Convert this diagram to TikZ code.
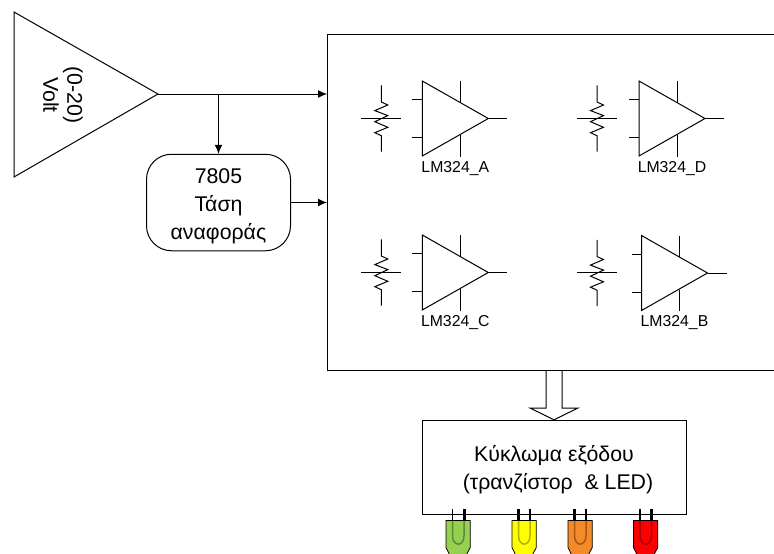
\documentclass[tikz,border=0pt]{standalone}
\usepackage{fontspec}
\setmainfont{Liberation Sans}
\usetikzlibrary{arrows.meta, positioning, calc}
\definecolor{ledGreen}{HTML}{96D050}
\definecolor{ledGreenDk}{HTML}{5E8A35}
\definecolor{ledYellow}{HTML}{FFFF00}
\definecolor{ledYellowDk}{HTML}{B5B000}
\definecolor{ledOrange}{HTML}{F58A28}
\definecolor{ledOrangeDk}{HTML}{A85A12}
\definecolor{ledRed}{HTML}{FF0000}
\definecolor{ledRedDk}{HTML}{A80000}
\tikzset{
  wire/.style={line width=1pt, color=black},
  feed/.style={-{Latex[length=9pt,width=8pt]}, wire},
  blockbox/.style={rectangle, draw=black, line width=1pt, align=center, inner sep=0pt,
                   font=\fontsize{21.3}{28}\selectfont},
  pics/opamp/.style={code={
    \draw[wire] (0,0) -- (66,37.5) -- (0,75) -- cycle;
    \draw[wire] (-10,18.5) -- (0,18.5);\draw[wire] (-10,56.5) -- (0,56.5);
    \draw[wire] (38,0) -- (38,21.5);\draw[wire] (38,54) -- (38,75.5);
    \draw[wire] (66,37.5) -- (85,37.5);
    \node[font=\fontsize{15.8}{18}\selectfont] (-label) at (33,87.5) {#1};
  }},
  pics/trimmer/.style={code={
    \draw[wire] (0,-33) -- (0,-16.3) -- (6.5,-13.3) -- (-6.5,-7.7) -- (6.5,-2.7)
      -- (-6.5,3.4) -- (6.5,9) -- (-6.5,14.4) -- (0,17.4) -- (0,33.4);
    \draw[wire] (-20,0) -- (20,0);
  }},
  pics/ledlamp/.style n args={4}{code={
    \draw[black, line width=0.8pt, fill=#1] (0,0) -- (24.3,0) -- (24.3,27)
      -- (21,33) -- (21,40) -- (3,40) -- (3,33) -- (0,27) -- cycle;
    \draw[#2, line width=1.5pt] (6.5,0) -- (6.5,15) .. controls (6.5,26.5) and (18,26.5) .. (18,15) -- (18,0);
    \draw[black, line width=#3] (6.5,-11.5) -- (6.5,0);
    \draw[black, line width=#4] (18,-11.5) -- (18,0);
  }},
}
\begin{document}
\begin{tikzpicture}[x=1pt, y=-1pt]
  \useasboundingbox (0,0) rectangle (774,554);
  % source and reference
  \draw[wire] (14,12) -- (158,94) -- (14,177) -- cycle;
  \coordinate (srctip) at (158,94);
  \node[rotate=-90, align=center, font=\fontsize{21.3}{24}\selectfont] (srclabel) at (63,95) {(0-20)\\Volt};
  \node[blockbox, rounded corners=25pt, minimum width=144pt, minimum height=96.5pt] (vref) at (218.5,202.5) {\rule{0pt}{22pt}7805\\Τάση\\αναφοράς};
  \node[blockbox, anchor=north west, minimum width=460pt, minimum height=336pt] (panel) at (327,34) {};
  \node[blockbox, minimum width=264pt, minimum height=94pt] (outbox) at (554,467.3) {\rule{0pt}{20pt}Κύκλωμα εξόδου\\\hspace*{8pt}(τρανζίστορ\ \ \& LED)};
  \coordinate (bustop) at (outbox.north |- panel.south);
  \draw[feed](srctip) -- (panel.west |- srctip);
  \draw[feed](vref.north |- srctip) -- (vref);
  \draw[feed](vref) -- (panel.west |- vref);
  \draw[wire, fill=white](bustop) ++(-8,0) -- ++(0,37) -- ++(-16,0) -- (outbox.north)
    -- ($(bustop)+(24,37)$) -- ++(-16,0) -- ++(0,-37);
  % op-amps
  \pic (ampA) at (422.3,81) {opamp={LM324\_A}};
  \pic (ampD) at (639,81) {opamp={LM324\_D}};
  \pic (ampC) at (422.3,235) {opamp={LM324\_C}};
  \pic (ampB) at (641.5,235.5) {opamp={LM324\_B}};
  \pic (potA) at (381.3,118.3) {trimmer};
  \pic (potD) at (597,118.3) {trimmer};
  \pic (potC) at (381.3,272.3) {trimmer};
  \pic (potB) at (597,272.8) {trimmer};
  % leds
  \pic (ledG) at (446,520.5) {ledlamp={ledGreen}{ledGreenDk}{1.5pt}{3pt}};
  \pic (ledY) at (512,520.5) {ledlamp={ledYellow}{ledYellowDk}{3pt}{1.5pt}};
  \pic (ledO) at (568,520.5) {ledlamp={ledOrange}{ledOrangeDk}{3pt}{1.5pt}};
  \pic (ledR) at (633.5,520.5) {ledlamp={ledRed}{ledRedDk}{1.5pt}{3pt}};
\end{tikzpicture}
\end{document}
